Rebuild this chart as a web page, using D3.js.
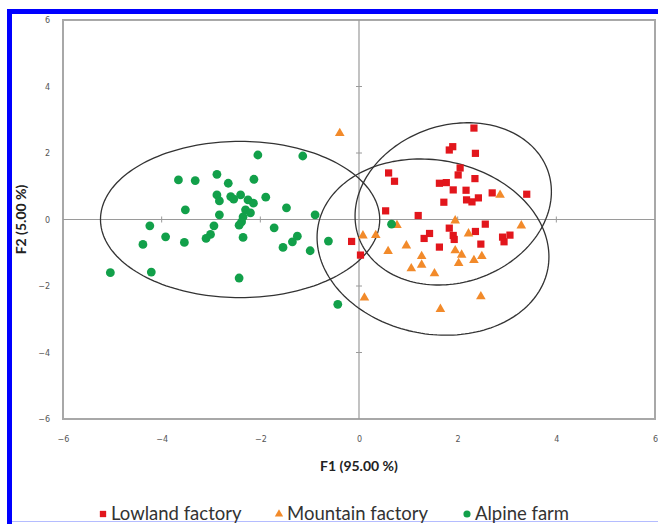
<!DOCTYPE html>
<html>
<head>
<meta charset="utf-8">
<script src="https://cdn.jsdelivr.net/npm/d3@7"></script>
<style>
  html, body { margin: 0; padding: 0; background: #fff; }
  svg { display: block; }
</style>
</head>
<body>
<div id="chart"></div>
<script>
// Data: F1 / F2 scores
const lowland = [
  [2.33, 2.75], [1.90, 2.19], [1.83, 2.09], [2.36, 1.99], [0.60, 1.40], [0.72, 1.15],
  [2.05, 1.55], [2.01, 1.34], [2.35, 1.23], [1.63, 1.09], [1.77, 1.11], [1.91, 0.89],
  [2.17, 0.88], [2.70, 0.80], [3.40, 0.76], [2.42, 0.65], [2.18, 0.59], [2.29, 0.53],
  [1.72, 0.52], [0.54, 0.26], [1.20, 0.12], [2.56, -0.14], [1.83, -0.26], [1.43, -0.42],
  [1.32, -0.57], [1.91, -0.48], [1.93, -0.60], [2.36, -0.36], [2.91, -0.53], [3.06, -0.47],
  [2.94, -0.67], [2.47, -0.74], [1.63, -0.83], [-0.15, -0.66], [0.03, -1.07]
];
const mountain = [
  [-0.39, 2.61], [2.86, 0.75], [1.95, -0.02], [0.77, -0.16], [0.08, -0.47], [0.34, -0.46],
  [0.96, -0.77], [0.59, -0.94], [2.22, -0.41], [3.29, -0.17], [1.95, -0.92], [2.08, -1.05],
  [1.27, -1.09], [1.27, -1.35], [1.06, -1.46], [2.02, -1.30], [2.33, -1.21], [2.49, -1.09],
  [1.53, -1.61], [2.47, -2.30], [1.65, -2.68], [0.11, -2.34]
];
const alpine = [
  [-2.05, 1.94], [-1.14, 1.91], [-3.66, 1.19], [-3.32, 1.17], [-2.88, 1.36], [-2.65, 1.09],
  [-2.13, 1.21], [-2.88, 0.74], [-2.83, 0.56], [-2.60, 0.69], [-2.54, 0.61], [-2.40, 0.74],
  [-2.25, 0.59], [-2.14, 0.49], [-1.89, 0.67], [-3.52, 0.29], [-2.83, 0.14], [-2.30, 0.29],
  [-2.20, 0.20], [-2.35, 0.08], [-2.38, -0.07], [-2.43, -0.17], [-1.47, 0.35], [-0.89, 0.14],
  [-4.24, -0.19], [-2.94, -0.19], [-1.72, -0.25], [-3.01, -0.45], [-3.10, -0.57], [-3.92, -0.52],
  [-3.54, -0.69], [-4.38, -0.75], [-2.35, -0.54], [-1.25, -0.50], [-1.35, -0.67], [-1.54, -0.84],
  [-0.99, -0.94], [-0.62, -0.65], [-5.04, -1.60], [-4.21, -1.58], [-2.43, -1.76], [-0.43, -2.55],
  [0.66, -0.14]
];

// confidence ellipses: centre, half extents along F1 / F2, and coupling (cos of phase)
const ellipseLowland = { cx: 1.91, cy: 0.47, rx: 1.99, ry: 2.44, c: 0.15 };
const ellipseMountain = { cx: 1.50, cy: -0.83, rx: 2.35, ry: 2.65, c: -0.11 };
const ellipseAlpine = { cx: -2.41, cy: 0.00, rx: 2.83, ry: 2.35, c: 0 };

const axisTicks = [-6, -4, -2, 0, 2, 4, 6];
const innerTicks = [-4, -2, 2, 4];
const xTitle = "F1 (95.00 %)";
const yTitle = "F2 (5.00 %)";
const legendLabels = ["Lowland factory", "Mountain factory", "Alpine farm"];

const colRed = "#e2161c", colOrange = "#f28a2a", colGreen = "#12a04a";

// Chart setup
const W = 658, H = 524;
const margin = { top: 20, right: 3, bottom: 105, left: 63 },
    width = W - margin.left - margin.right,
    height = H - margin.top - margin.bottom;

const root = d3.select("#chart")
    .append("svg")
    .attr("width", W)
    .attr("height", H);

// blue frame of the figure
root.append("rect").attr("x", 7).attr("y", 9).attr("width", W - 7).attr("height", 5).attr("fill", "#0000ff");
root.append("rect").attr("x", 7).attr("y", 9).attr("width", 5).attr("height", H - 9).attr("fill", "#0000ff");
root.append("line").attr("x1", 12).attr("x2", W).attr("y1", 521.5).attr("y2", 521.5)
    .attr("stroke", "#b4bcff").attr("stroke-width", 1);

const svg = root.append("g")
    .attr("transform", `translate(${margin.left},${margin.top})`);

const x = d3.scaleLinear().domain([-6, 6]).range([0, width]);
const y = d3.scaleLinear().domain([-6, 6]).range([height, 0]);

// plot frame
svg.append("rect")
    .attr("width", width)
    .attr("height", height)
    .attr("fill", "none")
    .attr("stroke", "#a8a8a8")
    .attr("stroke-width", 2);

// axes through the origin
svg.append("line")
    .attr("x1", x(0)).attr("x2", x(0)).attr("y1", 0).attr("y2", height)
    .attr("stroke", "#9a9a9a").attr("stroke-width", 1.2);
svg.append("line")
    .attr("x1", 0).attr("x2", width).attr("y1", y(0)).attr("y2", y(0))
    .attr("stroke", "#9a9a9a").attr("stroke-width", 1.2);

svg.selectAll(".xtick")
    .data(innerTicks)
    .enter()
    .append("line")
    .attr("x1", d => x(d)).attr("x2", d => x(d))
    .attr("y1", y(0) - 3).attr("y2", y(0) + 3)
    .attr("stroke", "#9a9a9a");
svg.selectAll(".ytick")
    .data(innerTicks)
    .enter()
    .append("line")
    .attr("x1", x(0) - 3).attr("x2", x(0) + 3)
    .attr("y1", d => y(d)).attr("y2", d => y(d))
    .attr("stroke", "#9a9a9a");

// tick labels
const xAxis = svg.append("g")
    .attr("transform", `translate(0,${height})`)
    .call(d3.axisBottom(x).tickValues(axisTicks).tickSize(0).tickPadding(17));
const yAxis = svg.append("g")
    .call(d3.axisLeft(y).tickValues(axisTicks).tickSize(0).tickPadding(13));
[xAxis, yAxis].forEach(g => {
    g.select(".domain").remove();
    g.selectAll("text")
        .attr("font-family", "DejaVu Sans, sans-serif")
        .attr("font-size", 8)
        .attr("fill", "#555");
});

// axis titles
root.append("text")
    .attr("x", margin.left + x(0))
    .attr("y", 471)
    .attr("text-anchor", "middle")
    .attr("font-family", "Lato, sans-serif")
    .attr("font-weight", "bold")
    .attr("font-size", 14)
    .attr("fill", "#222")
    .text(xTitle);
root.append("text")
    .attr("transform", `translate(26,${margin.top + y(0)}) rotate(-90)`)
    .attr("text-anchor", "middle")
    .attr("font-family", "Lato, sans-serif")
    .attr("font-weight", "bold")
    .attr("font-size", 14)
    .attr("fill", "#222")
    .text(yTitle);

// ellipses
const ellipseLine = d3.line()
    .x(d => x(d[0]))
    .y(d => y(d[1]))
    .curve(d3.curveLinearClosed);

function ellipsePoints(e) {
    const phi = Math.acos(e.c);
    return d3.range(0, 2 * Math.PI, Math.PI / 90)
        .map(t => [e.cx + e.rx * Math.cos(t), e.cy + e.ry * Math.cos(t - phi)]);
}

[ellipseAlpine, ellipseLowland, ellipseMountain].forEach(e => {
    svg.append("path")
        .attr("d", ellipseLine(ellipsePoints(e)))
        .attr("fill", "none")
        .attr("stroke", "#333")
        .attr("stroke-width", 1.3);
});

// points
svg.selectAll(".lowland")
    .data(lowland)
    .enter()
    .append("path")
    .attr("d", d3.symbol(d3.symbolSquare, 52))
    .attr("transform", d => `translate(${x(d[0])},${y(d[1])})`)
    .attr("fill", colRed);

svg.selectAll(".mountain")
    .data(mountain)
    .enter()
    .append("path")
    .attr("d", d3.symbol(d3.symbolTriangle, 40))
    .attr("transform", d => `translate(${x(d[0])},${y(d[1]) + 0.5})`)
    .attr("fill", colOrange);

svg.selectAll(".alpine")
    .data(alpine)
    .enter()
    .append("circle")
    .attr("cx", d => x(d[0]))
    .attr("cy", d => y(d[1]))
    .attr("r", 4.4)
    .attr("fill", colGreen);

// legend
const legendItems = [
    { label: legendLabels[0], color: colRed, shape: d3.symbolSquare, size: 40, x: 103 },
    { label: legendLabels[1], color: colOrange, shape: d3.symbolTriangle, size: 30, x: 279 },
    { label: legendLabels[2], color: colGreen, shape: d3.symbolCircle, size: 40, x: 467 }
];
const legend = root.append("g").attr("transform", "translate(0,513)");
legendItems.forEach(it => {
    legend.append("path")
        .attr("d", d3.symbol(it.shape, it.size))
        .attr("transform", `translate(${it.x},1)`)
        .attr("fill", it.color);
    legend.append("text")
        .attr("x", it.x + 8)
        .attr("y", 6.5)
        .attr("font-family", "Lato, sans-serif")
        .attr("font-size", 18.5)
        .attr("fill", "#333")
        .text(it.label);
});
</script>
</body>
</html>
